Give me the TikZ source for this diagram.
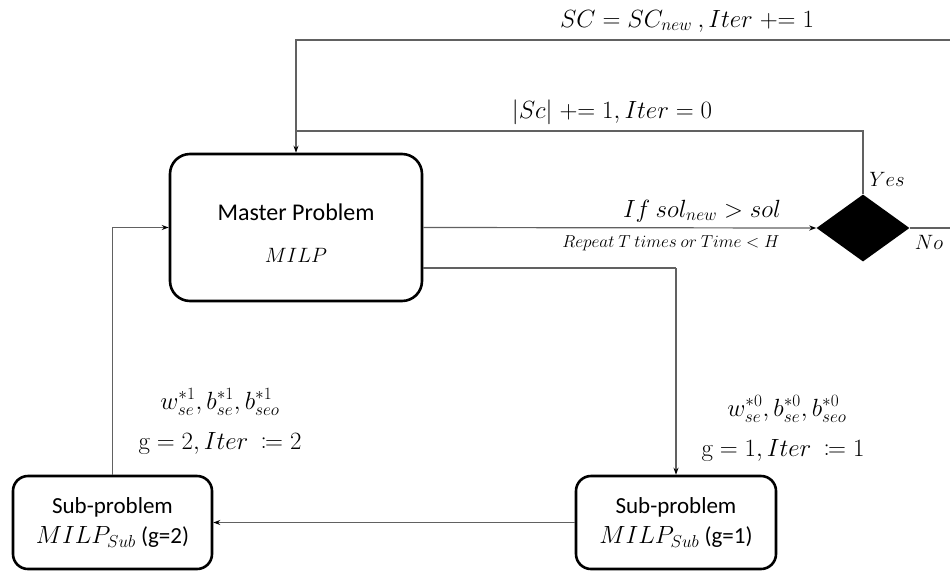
\documentclass[tikz,border=0pt]{standalone}
\usepackage[no-math]{fontspec}
\usepackage{mathtools}
\setmainfont{Carlito}
\usetikzlibrary{shapes.geometric,arrows.meta}
\begin{document}
\begin{tikzpicture}[x=1pt,y=-1pt,
  box/.style={draw=black,line width=2.6pt,align=center,inner sep=0pt,font=\fontsize{23}{30}\selectfont},
  conn/.style={draw=black!62,line width=1.2pt},
  arr/.style={conn,-{Stealth[length=7pt,width=5pt,black]}},
  lab/.style={font=\fontsize{23.5}{26}\selectfont,inner sep=0pt},
  small/.style={font=\fontsize{17}{19}\selectfont,inner sep=0pt}]
\useasboundingbox (0,0) rectangle (950,571);
% nodes
\node[box,rounded corners=20pt,minimum width=252pt,minimum height=147pt] (master) at (296,227.5) {};
\node[font=\fontsize{24}{28}\selectfont,inner sep=0pt] (mt1) at (296,212) {Master Problem};
\node[lab,font=\fontsize{21}{26}\selectfont] (mt2) at (296,255) {$MILP$};
\node[box,rounded corners=15pt,minimum width=200pt,minimum height=93pt] (sub1) at (676,522.5) {Sub-problem\\$MILP_{Sub}$ (g=1)};
\node[box,rounded corners=15pt,minimum width=199pt,minimum height=93pt] (sub2) at (112.5,522.5) {Sub-problem\\$MILP_{Sub}$ (g=2)};
\node[diamond,fill=black,draw=none,inner sep=0pt,minimum width=93pt,minimum height=67pt] (dia) at (863,228) {};
% coordinates
\coordinate (topR) at (950,40);
\coordinate (topL) at (296,40);
\coordinate (midL) at (296,131);
\coordinate (noend) at (950,228);
\coordinate (m2y) at (0,268);
\coordinate (bend) at (676,268);
% connectors
\draw[arr] (master.east) -- (dia.west);
\draw[conn] (dia.east) -- (noend);
\draw[conn] (dia.north) |- (midL);
\draw[arr] (topR) -- (topL) -- (master.north);
\draw[conn] (master.east |- m2y) -- (bend);
\draw[arr] (bend) -- (sub1.north);
\draw[arr] (sub1.west) -- (sub2.east);
\draw[arr] (sub2.north) |- (master.west);
% labels
\node[lab] (ltop) at (687,21) {$SC = SC_{new}\ , Iter \mathrel{{+}{=}} 1$};
\node[lab] (lmid) at (612,112) {$|Sc| \mathrel{{+}{=}} 1, Iter = 0$};
\node[lab] (lif) at (702,211) {$If\ sol_{new} > sol$};
\node[small] (lrep) at (671,243) {$Repeat\ T\ times\ or\ Time < H$};
\node[lab,font=\fontsize{21}{24}\selectfont] (lyes) at (887,179) {$Yes$};
\node[lab,font=\fontsize{21}{24}\selectfont] (lno) at (929,242) {$No$};
\node[lab,font=\fontsize{25}{28}\selectfont] (lw1) at (220,402) {$w^{*1}_{se}, b^{*1}_{se}, b^{*1}_{seo}$};
\node[lab] (lg2) at (220,443) {$\mathrm{g} = 2, Iter\ \coloneqq 2$};
\node[lab,font=\fontsize{25}{28}\selectfont] (lw0) at (787,409) {$w^{*0}_{se}, b^{*0}_{se}, b^{*0}_{seo}$};
\node[lab] (lg1) at (783,450) {$\mathrm{g} = 1, Iter\ \coloneqq 1$};
\end{tikzpicture}
\end{document}
